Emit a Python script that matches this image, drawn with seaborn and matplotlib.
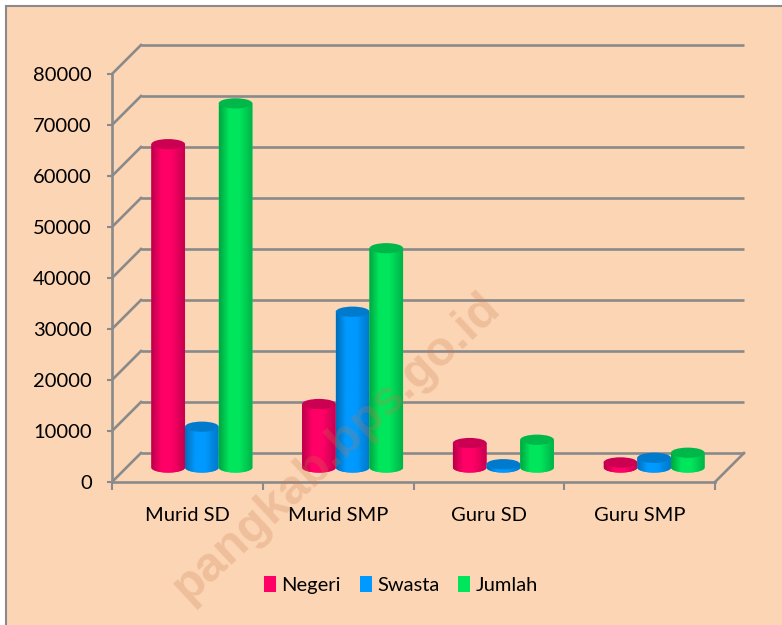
import numpy as np
import pandas as pd
import matplotlib
matplotlib.use("Agg")
import matplotlib.pyplot as plt
import seaborn as sns
from matplotlib.patches import Rectangle, Ellipse, PathPatch, Patch
from matplotlib.path import Path
from matplotlib.colors import LinearSegmentedColormap, to_rgb

# ========== DATA ==========
categories = ["Murid SD", "Murid SMP", "Guru SD", "Guru SMP"]
series = ["Negeri", "Swasta", "Jumlah"]
negeri = [63400, 12450, 4800, 1000]
swasta = [8000, 30550, 650, 1900]
jumlah = [71400, 43000, 5450, 2900]
y_ticks = [0, 10000, 20000, 30000, 40000, 50000, 60000, 70000, 80000]
watermark = "pangkab.bps.go.id"

colors = {"Negeri": "#FF0066", "Swasta": "#0099FF", "Jumlah": "#00E65C"}
BG = "#FCD5B5"
GRID = "#8A8A8A"
FONT = ["Lato", "DejaVu Sans"]
FS = 14.5

df = pd.DataFrame({
    "kategori": categories * 3,
    "status": [s for s in series for _ in categories],
    "nilai": negeri + swasta + jumlah,
})

plt.rcParams["font.family"] = FONT

# ========== FIGURE ==========
W, H = 782, 625
fig = plt.figure(figsize=(W / 100, H / 100), dpi=100, facecolor="white")
fig.patches.append(Rectangle((6 / W, -0.05), 1.1, 1 - 6 / H + 0.05, transform=fig.transFigure,
                             facecolor=BG, edgecolor=GRID, lw=1.5, zorder=-10))

ax_l, ax_r, ax_t, ax_b = 112, 715, 74, 482
ax = fig.add_axes([ax_l / W, 1 - ax_b / H, (ax_r - ax_l) / W, (ax_b - ax_t) / H])
ax.patch.set_visible(False)

sns.barplot(data=df, x="kategori", y="nilai", hue="status", order=categories, hue_order=series,
            palette=colors, width=0.67, gap=0, saturation=1, legend=False, ax=ax)
ax.set_xlim(-0.5, 3.5)
ax.set_ylim(0, 80000)

# depth offset of the back wall, in data units
depth = 29
dx = depth * 4 / (ax_r - ax_l)
dy = depth * 80000 / (ax_b - ax_t)

# back wall grid + side wall slants
for y in y_ticks:
    ax.plot([-0.5 + dx, 3.5 + dx], [y + dy, y + dy], color=GRID, lw=1.9, clip_on=False, zorder=1,
            solid_capstyle="butt")
    ax.plot([-0.5, -0.5 + dx], [y, y + dy], color=GRID, lw=1.9, clip_on=False, zorder=1)
ax.plot([3.5, 3.5 + dx], [0, dy], color=GRID, lw=1.9, clip_on=False, zorder=1)

# ========== CYLINDERS ==========
ell_h = 2000
bars = list(ax.patches)
for i, p in enumerate(bars):
    x0, w, h = p.get_x(), p.get_width(), p.get_height()
    base_rgb = np.array(to_rgb(p.get_facecolor()))
    p.set_visible(False)
    bx0 = x0 + dx / 2
    cx = bx0 + w / 2
    base = dy / 2
    top = base + h
    t = np.linspace(np.pi, 2 * np.pi, 40)
    verts = [(bx0, top), (bx0, base)]
    verts += list(zip(cx + w / 2 * np.cos(t), base + ell_h / 2 * np.sin(t)))
    verts += [(bx0 + w, top), (bx0, top)]
    codes = [Path.MOVETO] + [Path.LINETO] * (len(verts) - 2) + [Path.CLOSEPOLY]
    z = 3 + i * 0.1
    body = PathPatch(Path(verts, codes), facecolor=base_rgb, edgecolor="none", zorder=z)
    ax.add_patch(body)
    cmap = LinearSegmentedColormap.from_list(
        "cyl", [(0, base_rgb * 0.72), (0.3, base_rgb), (0.6, base_rgb), (1, base_rgb * 0.78)])
    grad = np.linspace(0, 1, 64)[None, :]
    im = ax.imshow(grad, extent=[bx0, bx0 + w, base - ell_h / 2, top], cmap=cmap, aspect="auto",
                   origin="lower", zorder=z + 0.01, interpolation="bilinear")
    im.set_clip_path(body)
    ax.add_patch(Ellipse((cx, top), w, ell_h, facecolor=base_rgb * 0.8, edgecolor="none",
                         zorder=z + 0.02))

ax.set_xlim(-0.5, 3.5)
ax.set_ylim(0, 80000)
ax.set_aspect("auto")

# ========== AXES ==========
for s in ["top", "right"]:
    ax.spines[s].set_visible(False)
for s in ["left", "bottom"]:
    ax.spines[s].set_color(GRID)
    ax.spines[s].set_linewidth(1.9)
    ax.spines[s].set_zorder(2)

ax.set_yticks(y_ticks)
ax.set_yticklabels([str(v) for v in y_ticks])
ax.tick_params(axis="y", length=3.6, width=1.5, color=GRID, pad=10.8, labelsize=FS)
ax.set_xticks([-0.5, 0.5, 1.5, 2.5, 3.5])
ax.set_xticklabels([])
ax.set_xticks(range(len(categories)), minor=True)
ax.set_xticklabels(categories, minor=True)
ax.tick_params(axis="x", which="major", length=6, width=1.5, color=GRID)
ax.tick_params(axis="x", which="minor", length=0, pad=18, labelsize=FS)
ax.set_xlabel("")
ax.set_ylabel("")

# ========== LEGEND ==========
handles = [Patch(facecolor=colors[s], edgecolor="none", label=s) for s in series]
fig.legend(handles=handles, loc="center", bbox_to_anchor=(401 / W, 1 - 585 / H), ncol=3,
           frameon=False, handlelength=0.6, handleheight=0.8, handletextpad=0.25,
           columnspacing=0.95, prop={"family": FONT, "size": FS})

# watermark
fig.text(337 / W, 1 - 447 / H, watermark, rotation=43, rotation_mode="anchor", ha="center",
         va="center", fontsize=35, fontweight="bold", family=["Liberation Sans", "DejaVu Sans"],
         color="#C8784A", alpha=0.25, zorder=20)

fig.savefig("out.png", dpi=100, facecolor=fig.get_facecolor())
